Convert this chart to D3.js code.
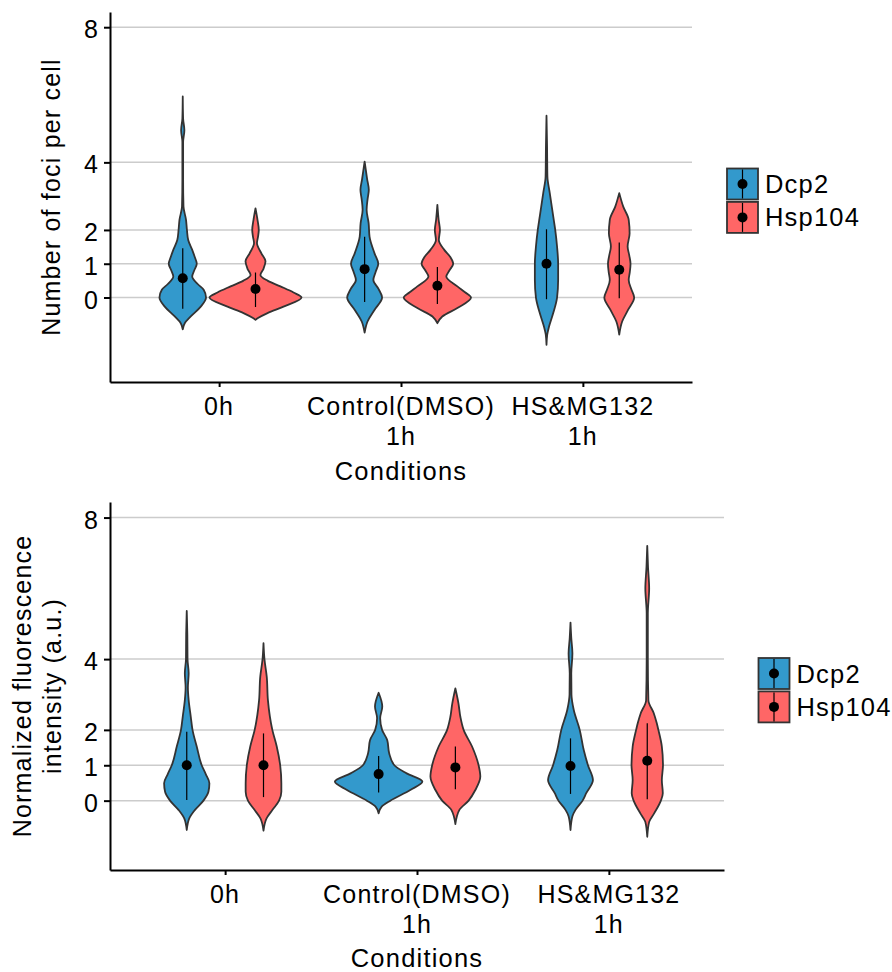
<!DOCTYPE html>
<html>
<head>
<meta charset="utf-8">
<script src="https://cdn.jsdelivr.net/npm/d3@7"></script>
<style>
  html, body { margin: 0; padding: 0; background: #fff; }
  svg text { font-family: "Liberation Sans", Arial, Helvetica, sans-serif; fill: #000; letter-spacing: 1.2px; }
</style>
</head>
<body>
<svg id="chart" width="892" height="972"></svg>
<script>
// ---------------- DATA ----------------
const categories = ["0h", "Control(DMSO) 1h", "HS&MG132 1h"];
const categoryLines = [["0h"], ["Control(DMSO)", "1h"], ["HS&MG132", "1h"]];
const groups = ["Dcp2", "Hsp104"];
const groupColors = ["#3399CC", "#FF6666"];
const yTicks = [0, 1, 2, 4, 8];
const xTitle = "Conditions";
const fociTitle = ["Number of foci per cell"];
const intensityTitle = ["Normalized fluorescence", "intensity (a.u.)"];

// violin density profiles: [value, half-width in % of category spacing]
const fociDcp2_0h = [[-0.94,0],[-0.76,1.1],[-0.56,4.4],[-0.27,9.9],[0,12.8],[0.23,11.5],[0.4,8.2],[0.62,5.2],[0.8,6.3],[1.0,7.7],[1.2,6.6],[1.41,5.2],[1.7,3.0],[2.0,2.3],[2.3,1.8],[2.7,0.4],[3.5,0.2],[4.6,0.2],[4.95,0.9],[5.3,0.2],[5.95,0]];
const fociHsp104_0h = [[-0.66,0],[-0.6,1.6],[-0.46,6.6],[-0.27,15.4],[0,25.3],[0.15,20.9],[0.33,13.7],[0.5,6.6],[0.67,2.7],[0.85,4.4],[1.07,5.5],[1.3,3.3],[1.61,0.8],[1.8,1.4],[2.0,1.8],[2.3,1.1],[2.64,0]];
const fociDcp2_ctrl = [[-1.04,0],[-0.71,1.6],[-0.36,5.5],[0,9.6],[0.25,7.7],[0.52,4.8],[0.75,6.0],[1.0,7.5],[1.3,5.5],[1.8,2.7],[2.2,2.2],[2.6,1.1],[2.9,1.6],[3.19,2.3],[3.5,1.4],[4.02,0]];
const fociHsp104_ctrl = [[-0.76,0],[-0.56,2.7],[-0.31,11.0],[0,18.5],[0.15,15.4],[0.33,11.0],[0.62,4.9],[0.8,6.6],[1.0,8.7],[1.2,7.1],[1.41,3.8],[1.7,0.8],[2.0,1.4],[2.3,0.7],[2.74,0]];
const fociDcp2_hs = [[-1.4,0],[-1.1,0.4],[-0.86,1.4],[-0.46,3.7],[0,5.8],[0.52,6.4],[1.0,6.4],[1.51,5.8],[2.0,4.8],[2.4,3.7],[3.09,1.8],[3.58,0.5],[4.5,0.3],[5.38,0]];
const fociHsp104_hs = [[-1.1,0],[-0.71,1.6],[-0.36,4.9],[0,8.2],[0.25,6.6],[0.52,5.2],[0.75,5.8],[1.0,6.2],[1.25,5.5],[1.51,4.6],[1.9,5.7],[2.3,5.2],[2.69,2.2],[3.09,0]];

const intDcp2_0h = [[-0.83,0],[-0.5,1.3],[-0.26,4.3],[0,8.7],[0.25,11.3],[0.49,11.8],[0.75,9.9],[1.0,7.8],[1.53,5.2],[2.0,3.0],[2.37,2.1],[2.84,1.0],[3.2,0.6],[3.6,1.0],[4.0,0.4],[4.7,0.3],[5.36,0]];
const intHsp104_0h = [[-0.85,0],[-0.5,1.6],[-0.26,4.7],[0,8.1],[0.25,9.3],[0.49,9.3],[1.0,8.7],[1.53,6.9],[2.0,4.6],[2.84,2.3],[3.5,1.7],[4.0,0.5],[4.45,0]];
const intDcp2_ctrl = [[-0.36,0],[-0.17,1.6],[0,6.1],[0.3,16.5],[0.54,22.8],[0.77,14.6],[1.0,8.2],[1.34,5.5],[1.71,4.5],[2.0,1.8],[2.33,0.8],[2.66,1.9],[3.05,0]];
const intHsp104_ctrl = [[-0.66,0],[-0.26,2.1],[0,6.9],[0.3,10.4],[0.68,13.0],[1.0,12.1],[1.53,8.7],[2.0,4.3],[2.37,2.6],[2.75,1.6],[3.17,0]];
const intDcp2_hs = [[-0.83,0],[-0.44,1.0],[-0.26,2.6],[0,6.3],[0.21,8.2],[0.58,11.7],[1.0,9.1],[1.43,6.9],[2.0,4.8],[2.56,1.7],[3.0,0.5],[3.6,0.4],[4.16,1.0],[4.6,0.4],[5.03,0]];
const intHsp104_hs = [[-1.02,0],[-0.6,1.0],[-0.36,3.6],[0,7.1],[0.21,8.1],[0.58,7.6],[1.0,8.2],[1.53,7.6],[2.0,5.8],[2.2,4.9],[2.47,3.4],[2.84,0.6],[4.0,0.3],[5.29,0.3],[6.0,1.0],[6.6,0.4],[7.2,0]];

// summary: mean point and line ends, [category][group]
const fociMean = [[0.57, 0.25], [0.84, 0.35], [1.0, 0.82]];
const fociLow  = [[-0.33, -0.28], [-0.13, -0.19], [-0.05, -0.02]];
const fociHigh = [[1.46, 0.74], [1.8, 0.9], [2.02, 1.63]];
const intMean  = [[1.0, 1.0], [0.75, 0.94], [0.98, 1.13]];
const intLow   = [[0.02, 0.1], [0.23, 0.32], [0.19, 0.04]];
const intHigh  = [[1.95, 1.9], [1.26, 1.53], [1.76, 2.19]];

// ---------------- DRAW ----------------
const svg = d3.select("#chart");
const FS = 25;

function drawPanel(cfg) {
  const g = svg.append("g");
  const x = d3.scalePoint().domain(categories).range([cfg.left, cfg.right]).padding(0.6);
  const step = x.step();
  const y = d3.scaleLinear().domain(cfg.yDomain).range([cfg.bottom, cfg.top]);

  // grid
  g.selectAll("line.grid").data(yTicks).join("line")
    .attr("x1", cfg.left).attr("x2", cfg.right)
    .attr("y1", d => y(d)).attr("y2", d => y(d))
    .attr("stroke", "#cccccc").attr("stroke-width", 1.5);

  // violins
  const dodge = 0.2;
  categories.forEach((cat, ci) => {
    groups.forEach((grp, gi) => {
      const cx = x(cat) + (gi === 0 ? -dodge : dodge) * step;
      const prof = cfg.profiles[ci][gi].slice().sort((a, b) => b[0] - a[0]);
      const area = d3.area()
        .curve(d3.curveMonotoneY)
        .y(d => y(d[0]))
        .x0(d => cx - d[1] / 100 * step)
        .x1(d => cx + d[1] / 100 * step);
      g.append("path").attr("d", area(prof))
        .attr("fill", groupColors[gi]).attr("stroke", "#333333")
        .attr("stroke-width", 1.8).attr("stroke-linejoin", "round");
      g.append("line")
        .attr("x1", cx).attr("x2", cx)
        .attr("y1", y(cfg.low[ci][gi])).attr("y2", y(cfg.high[ci][gi]))
        .attr("stroke", "#000").attr("stroke-width", 1.2);
      g.append("circle").attr("cx", cx).attr("cy", y(cfg.mean[ci][gi]))
        .attr("r", 5).attr("fill", "#000");
    });
  });

  // y axis
  const ya = g.append("g").attr("transform", `translate(${cfg.left},0)`)
    .call(d3.axisLeft(y).tickValues(yTicks).tickSize(6).tickSizeOuter(0).tickPadding(5));
  ya.select(".domain").attr("stroke", "#000").attr("stroke-width", 2);
  ya.selectAll(".tick line").attr("stroke", "#000").attr("stroke-width", 2);
  ya.selectAll(".tick text").attr("font-size", FS).attr("dy", "0.42em")
    .attr("font-family", null);

  // x axis
  const xa = g.append("g").attr("transform", `translate(0,${cfg.bottom})`)
    .call(d3.axisBottom(x).tickSize(5).tickSizeOuter(0).tickFormat(""));
  xa.select(".domain").attr("stroke", "#000").attr("stroke-width", 2);
  xa.selectAll(".tick line").attr("stroke", "#000").attr("stroke-width", 2);

  categories.forEach((cat, ci) => {
    const t = g.append("text").attr("text-anchor", "middle").attr("font-size", FS);
    categoryLines[ci].forEach((ln, li) => {
      t.append("tspan").attr("x", x(cat)).attr("y", cfg.bottom + 33 + li * 30).text(ln);
    });
  });

  g.append("text").attr("text-anchor", "middle").attr("font-size", 25.5)
    .attr("x", (cfg.left + cfg.right) / 2).attr("y", cfg.bottom + cfg.xTitleDy)
    .text(xTitle);

  // y title
  const cy = (cfg.top + cfg.bottom) / 2;
  cfg.yTitle.forEach((ln, li) => {
    g.append("text").attr("text-anchor", "middle").attr("font-size", 25)
      .attr("transform", `translate(${cfg.yTitleX[li]},${cy}) rotate(-90)`)
      .text(ln);
  });

  // legend
  groups.forEach((grp, gi) => {
    const ky = cfg.legendY + gi * 33.4;
    const lg = g.append("g");
    lg.append("rect").attr("x", cfg.legendX).attr("y", ky).attr("width", 31).attr("height", 31)
      .attr("fill", groupColors[gi]).attr("stroke", "#333333").attr("stroke-width", 1.8);
    lg.append("line").attr("x1", cfg.legendX + 15.5).attr("x2", cfg.legendX + 15.5)
      .attr("y1", ky + 1).attr("y2", ky + 30).attr("stroke", "#000").attr("stroke-width", 1.2);
    lg.append("circle").attr("cx", cfg.legendX + 15.5).attr("cy", ky + 15.5).attr("r", 5).attr("fill", "#000");
    lg.append("text").attr("x", cfg.legendX + 38).attr("y", ky + 15.5 + 9)
      .attr("font-size", FS + 0.5).text(grp);
  });
}

drawPanel({
  left: 110, right: 692, top: 12, bottom: 382,
  yDomain: [-2.5, 8.45],
  profiles: [[fociDcp2_0h, fociHsp104_0h], [fociDcp2_ctrl, fociHsp104_ctrl], [fociDcp2_hs, fociHsp104_hs]],
  mean: fociMean, low: fociLow, high: fociHigh,
  yTitle: fociTitle, yTitleX: [60],
  xTitleDy: 98,
  legendX: 727, legendY: 168.5
});

drawPanel({
  left: 110, right: 724, top: 502, bottom: 870,
  yDomain: [-1.96, 8.44],
  profiles: [[intDcp2_0h, intHsp104_0h], [intDcp2_ctrl, intHsp104_ctrl], [intDcp2_hs, intHsp104_hs]],
  mean: intMean, low: intLow, high: intHigh,
  yTitle: intensityTitle, yTitleX: [31, 61],
  xTitleDy: 97,
  legendX: 758.5, legendY: 658
});
</script>
</body>
</html>
